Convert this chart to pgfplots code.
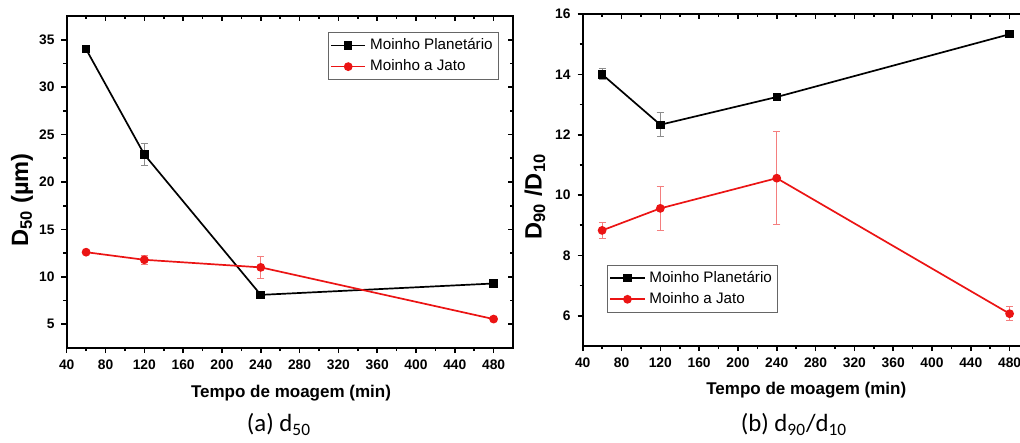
\documentclass[border=0pt]{standalone}
\usepackage{fontspec}
\setmainfont{Liberation Sans}
\newfontfamily\calibri{Carlito}
\usepackage{pgfplots}
\pgfplotsset{compat=1.18}

\definecolor{jred}{RGB}{235,20,20}

\pgfplotsset{
  painel/.style={
    scale only axis, width=223.15pt, height=166pt,
    xmin=40, xmax=500, xtick={40,80,...,480}, minor x tick num=1,
    minor y tick num=1,
    axis line style={line width=1pt},
    major tick length=2.6pt, minor tick length=1.6pt,
    every tick/.style={black, line width=0.8pt},
    /pgf/number format/assume math mode=true,
    ticklabel style={font=\bfseries\fontsize{6.9}{8}\selectfont},
  },
  espelho/.style={
    painel, xtick pos=right, ytick pos=right, tick align=inside,
    xticklabels={}, yticklabels={},
  },
  planet/.style={black, line width=0.85pt, mark=square*, mark size=1.7pt,
    error bars/.cd, y dir=both, y explicit,
    error bar style={black!45, line width=0.45pt},
    error mark options={rotate=90, black!45, mark size=1.8pt, line width=0.45pt}},
  jato/.style={jred, line width=0.85pt, mark=*, mark size=1.75pt,
    error bars/.cd, y dir=both, y explicit,
    error bar style={jred!55, line width=0.45pt},
    error mark options={rotate=90, jred!55, mark size=1.8pt, line width=0.45pt}},
  legenda/.style={legend style={draw=black!60, line width=0.5pt,
    font=\fontsize{7.6}{8.4}\selectfont, inner sep=1pt, row sep=-0.5pt},
    legend cell align=left},
}

\begin{document}
\begin{tikzpicture}

% (a) d50
\begin{axis}[espelho, at={(33.35pt,47.5pt)}, anchor=south west,
  ymin=2.5, ymax=37.5, ytick={5,10,...,35}]
\end{axis}
\begin{axis}[painel, at={(33.35pt,47.5pt)}, anchor=south west,
  ymin=2.5, ymax=37.5, ytick={5,10,...,35},
  tick align=outside, xtick pos=left, ytick pos=left,
  xlabel={Tempo de moagem (min)},
  xlabel style={font=\bfseries\fontsize{8.5}{10}\selectfont,
    at={(axis description cs:0.5026,-0.1355)}, anchor=center},
  ylabel={D\textsubscript{50} (µm)},
  ylabel style={font=\bfseries\fontsize{11.8}{13}\selectfont,
    at={(axis description cs:-0.100,0.446)}, anchor=center},
  legenda, legend style={at={(0.969,0.952)}, anchor=north east}]
  \addplot[planet] coordinates {
    (60,34.0) +- (0,0)
    (120,22.9) +- (0,1.15)
    (240,8.1) +- (0,0)
    (480,9.3) +- (0,0)
  };
  \addlegendentry{Moinho Planetário}
  \addplot[jato] coordinates {
    (60,12.6) +- (0,0.15)
    (120,11.8) +- (0,0.45)
    (240,11.0) +- (0,1.17)
    (480,5.55) +- (0,0.1)
  };
  \addlegendentry{Moinho a Jato}
\end{axis}

% (b) d90/d10
\begin{axis}[espelho, at={(291.35pt,48.5pt)}, anchor=south west,
  ymin=5, ymax=16, ytick={6,8,...,16}]
\end{axis}
\begin{axis}[painel, at={(291.35pt,48.5pt)}, anchor=south west,
  ymin=5, ymax=16, ytick={6,8,...,16},
  tick align=outside, xtick pos=left, ytick pos=left,
  xlabel={Tempo de moagem (min)},
  xlabel style={font=\bfseries\fontsize{8.5}{10}\selectfont,
    at={(axis description cs:0.501,-0.133)}, anchor=center},
  ylabel={D\textsubscript{90} /D\textsubscript{10}},
  ylabel style={font=\bfseries\fontsize{11.8}{13}\selectfont,
    at={(axis description cs:-0.107,0.450)}, anchor=center},
  legenda, legend style={at={(0.0545,0.10)}, anchor=south west}]
  \addplot[planet] coordinates {
    (60,14.0) +- (0,0.18)
    (120,12.33) +- (0,0.4)
    (240,13.25) +- (0,0.05)
    (480,15.33) +- (0,0.05)
  };
  \addlegendentry{Moinho Planetário}
  \addplot[jato] coordinates {
    (60,8.83) +- (0,0.27)
    (120,9.56) +- (0,0.73)
    (240,10.56) +- (0,1.54)
    (480,6.07) +- (0,0.23)
  };
  \addlegendentry{Moinho a Jato}
\end{axis}

\node[font=\calibri\fontsize{12.4}{14}\selectfont, anchor=base] at (139.5pt,5.5pt) {(a) d\textsubscript{50}};
\node[font=\calibri\fontsize{12.4}{14}\selectfont, anchor=base] at (397pt,5.5pt) {(b) d\textsubscript{90}/d\textsubscript{10}};

\pgfresetboundingbox
\path[use as bounding box] (0pt,0pt) rectangle (510pt,221.5pt);
\end{tikzpicture}
\end{document}
